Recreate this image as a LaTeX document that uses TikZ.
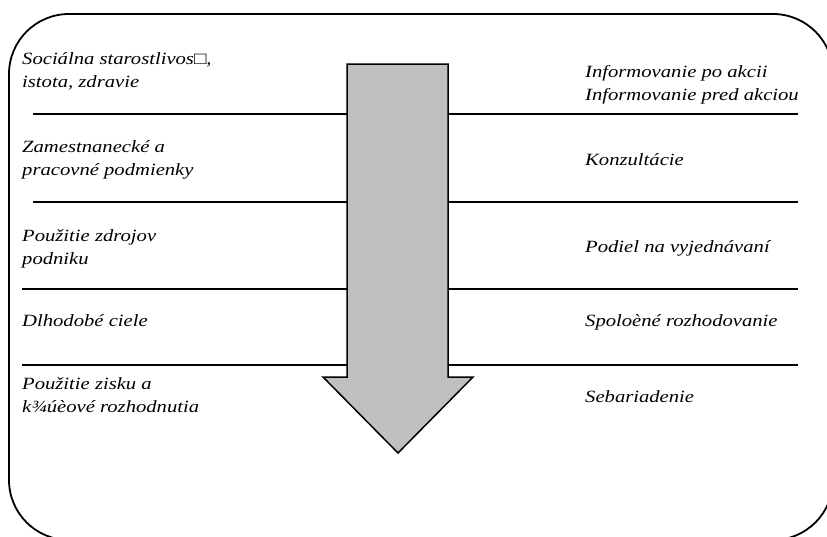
\documentclass[tikz,border=0pt]{standalone}
\usepackage{fontspec}
\setmainfont[FakeStretch=1.2]{Liberation Serif}
\usepackage{tikz}

\begin{document}
\begin{tikzpicture}[x=1pt,y=-1pt,
  txt/.style={anchor=base west, inner sep=0pt, align=left,
    font=\fontsize{17.2}{23}\selectfont\itshape}]

\useasboundingbox (0,0) rectangle (827,536);

% Draw Frame

\draw[line width=1.8pt, rounded corners=60pt] (9,14) rectangle (833,540);

% Draw Dividers (left part)

\draw[line width=1.8pt] (33,114) -- (347,114);

\draw[line width=1.8pt] (33,202) -- (347,202);

\draw[line width=1.8pt] (22,289) -- (347,289);

\draw[line width=1.8pt] (22,365) -- (347,365);

% Draw Dividers (right part)

\draw[line width=1.8pt] (448,114) -- (798,114);

\draw[line width=1.8pt] (448,202) -- (798,202);

\draw[line width=1.8pt] (448,289) -- (798,289);

\draw[line width=1.8pt] (448,365) -- (798,365);

% Draw Arrow

\filldraw[fill={rgb,255:red,192;green,192;blue,192}, line width=1.5pt, line join=miter]
(347,64) -- (448,64) -- (448,377) -- (473,377) -- (398,453)
-- (323,377) -- (347,377) -- cycle;

% Draw Labels on Left Side (base = last line)

\node[txt] (care) at (22,87) {Sociálna starostlivos□,\\istota, zdravie};

\node[txt] (work) at (22,175) {Zamestnanecké a\\pracovné podmienky};

\node[txt] (res) at (22,264) {Použitie zdrojov\\podniku};

\node[txt] (goals) at (22,326) {Dlhodobé ciele};

\node[txt] (profit) at (22,412) {Použitie zisku a\\k¾úèové rozhodnutia};

% Draw Labels on Right Side

\node[txt] (info) at (585,100) {Informovanie po akcii\\Informovanie pred akciou};

\node[txt] (consult) at (585,165) {Konzultácie};

\node[txt] (share) at (585,252) {Podiel na vyjednávaní};

\node[txt] (joint) at (585,326) {Spoloèné rozhodovanie};

\node[txt] (self) at (585,402) {Sebariadenie};

\end{tikzpicture}
\end{document}
